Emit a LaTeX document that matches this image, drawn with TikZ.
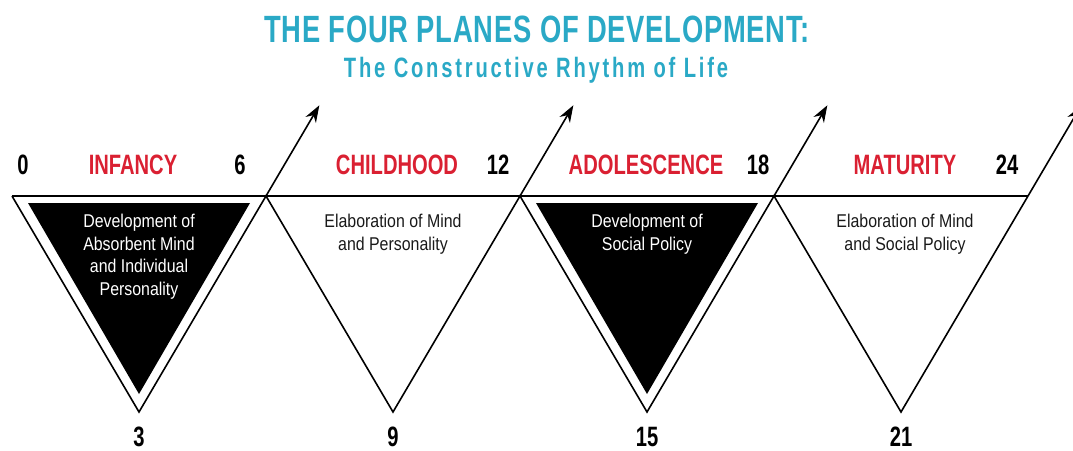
\documentclass[tikz,border=0pt]{standalone}
\usepackage{fontspec}
\usepackage[svgnames]{xcolor}
\usetikzlibrary{arrows.meta,calc}
\setmainfont{Liberation Sans}
\newfontfamily\headfont[FakeStretch=0.72]{Liberation Sans}
\newfontfamily\bodyfont[FakeStretch=0.86]{Liberation Sans}
\definecolor{titleblue}{HTML}{2AA9C6}
\definecolor{planered}{HTML}{DA2032}

\begin{document}
\begin{tikzpicture}[x=1pt,y=-1pt,>={Stealth[length=17pt,width=12pt]},
                    age/.style={anchor=base,inner sep=0pt,
                                font=\headfont\bfseries\fontsize{28}{30}\selectfont},
                    plane/.style={age,text=planered},
                    desc/.style={anchor=north,align=center,inner sep=0pt,text=black!90,
                                 font=\bodyfont\fontsize{18.5}{22.5}\selectfont},
                    edge/.style={line width=1.6pt}]
  \useasboundingbox (0,0) rectangle (1073,450);
  \clip (0,0) rectangle (1073,450);

  \node[anchor=base,text=titleblue,
        font=\headfont\bfseries\fontsize{38}{40}\selectfont\addfontfeature{LetterSpace=2}]
        (title) at (537,42) {THE FOUR PLANES OF DEVELOPMENT:};
  \node[anchor=base,text=titleblue,
        font=\headfont\bfseries\fontsize{28}{30}\selectfont\addfontfeature{LetterSpace=10}]
        (subtitle) at (536,77) {The Constructive Rhythm of Life};

  % corners on the top line, apexes of the planes
  \coordinate (c0) at (12,196);
  \coordinate (c1) at (266,196);
  \coordinate (c2) at (520,196);
  \coordinate (c3) at (774,196);
  \coordinate (c4) at (1028,196);
  \coordinate (a1) at (139,412);
  \coordinate (a2) at (393,412);
  \coordinate (a3) at (647,412);
  \coordinate (a4) at (901,412);

  % filled planes
  \fill (28,203) -- (250,203) -- (139,394) -- cycle;
  \fill (536,203) -- (758,203) -- (647,394) -- cycle;

  \draw[edge] (c0) -- (a1) -- (c1) -- (a2) -- (c2) -- (a3) -- (c3) -- (a4) -- (c4);
  \draw[line width=2.4pt] (c0) -- (c4);

  \draw[edge,->] (c1) -- ($(a1)!1.42!(c1)$);
  \draw[edge,->] (c2) -- ($(a2)!1.42!(c2)$);
  \draw[edge,->] (c3) -- ($(a3)!1.42!(c3)$);
  \draw[edge,->] (c4) -- ($(a4)!1.42!(c4)$);

  \node[age] (n0)  at (23,174)   {0};
  \node[age] (n6)  at (240,174)  {6};
  \node[age] (n12) at (498,174)  {12};
  \node[age] (n18) at (758,174)  {18};
  \node[age] (n24) at (1007,174) {24};
  \node[age] (n3)  at (139,446)  {3};
  \node[age] (n9)  at (393,446)  {9};
  \node[age] (n15) at (647,446)  {15};
  \node[age] (n21) at (901,446)  {21};

  \node[plane] (infancy)     at (133,174) {INFANCY};
  \node[plane] (childhood)   at (397,174) {CHILDHOOD};
  \node[plane] (adolescence) at (646,174) {ADOLESCENCE};
  \node[plane] (maturity)    at (905,174) {MATURITY};

  \node[desc,text=white] (d1) at (139,214) {Development of\\Absorbent Mind\\and Individual\\Personality};
  \node[desc]            (d2) at (393,214) {Elaboration of Mind\\and Personality};
  \node[desc,text=white] (d3) at (647,214) {Development of\\Social Policy};
  \node[desc]            (d4) at (905,214) {Elaboration of Mind\\and Social Policy};
\end{tikzpicture}
\end{document}
